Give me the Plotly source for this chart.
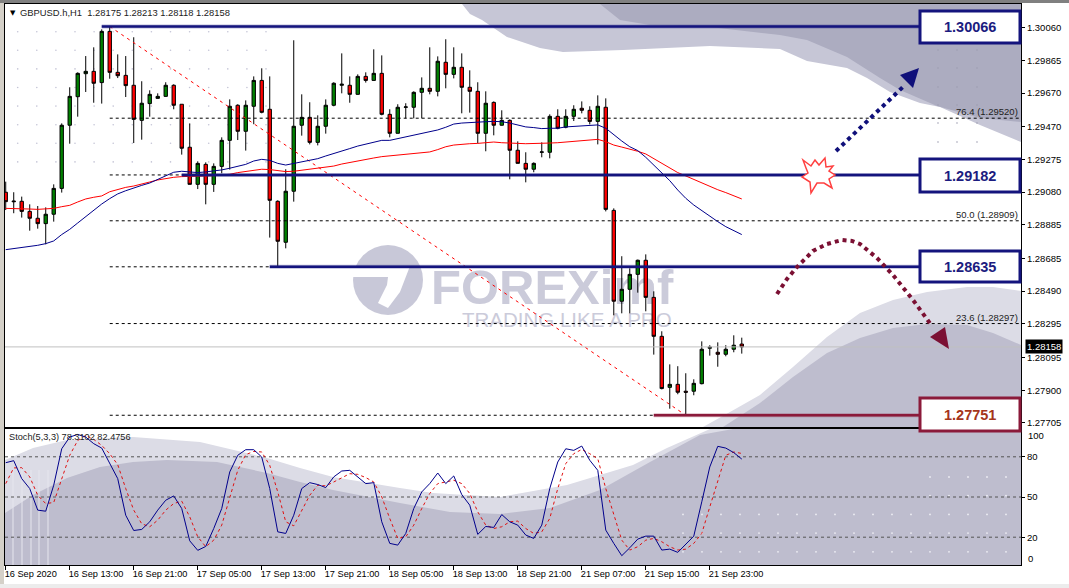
#!/usr/bin/env python3
import plotly.graph_objects as go

W, H = 1069, 588

# hourly bars
opens = [1.29079,1.29027,1.29025,1.28965,1.28924,1.28892,1.28948,1.29102,1.29478,1.29648,1.29785,1.29799,1.29732,1.30037,1.29793,1.29775,1.29716,1.29507,1.29607,1.29638,1.29650,1.29716,1.29603,1.29347,1.29126,1.29245,1.29126,1.29233,1.29388,1.29597,1.29442,1.29591,1.29745,1.29573,1.29025,1.28781,1.29085,1.29478,1.29525,1.29376,1.29472,1.29597,1.29716,1.29716,1.29662,1.29769,1.29745,1.29787,1.29543,1.29430,1.29585,1.29585,1.29674,1.29698,1.29680,1.29853,1.29781,1.29823,1.29704,1.29680,1.29430,1.29614,1.29478,1.29507,1.29329,1.29251,1.29216,1.29317,1.29317,1.29531,1.29466,1.29531,1.29579,1.29567,1.29501,1.29585,1.28971,1.28430,1.28501,1.28590,1.28674,1.28453,1.28221,1.27917,1.27935,1.27894,1.27894,1.27939,1.28150,1.28126,1.28114,1.28144,1.28175]
highs = [1.29142,1.29079,1.29053,1.29007,1.28997,1.28989,1.29126,1.29489,1.29704,1.29793,1.29890,1.29942,1.30049,1.30066,1.29900,1.29890,1.30002,1.29740,1.29686,1.29668,1.29734,1.29722,1.29603,1.29489,1.29263,1.29257,1.29251,1.29406,1.29632,1.29603,1.29626,1.29769,1.29817,1.29769,1.29031,1.29216,1.29984,1.29662,1.29615,1.29537,1.29632,1.29734,1.29906,1.29769,1.29781,1.29793,1.29930,1.29894,1.29573,1.29603,1.29609,1.29680,1.29763,1.29942,1.29888,1.29990,1.29942,1.29906,1.29805,1.29734,1.29680,1.29620,1.29567,1.29513,1.29382,1.29317,1.29257,1.29376,1.29543,1.29573,1.29573,1.29597,1.29620,1.29591,1.29656,1.29638,1.28983,1.28698,1.28626,1.28678,1.28709,1.28489,1.28251,1.28054,1.28043,1.28001,1.27965,1.28191,1.28168,1.28185,1.28168,1.28227,1.28213]
lows = [1.28973,1.28954,1.28928,1.28850,1.28862,1.28769,1.28904,1.29077,1.29368,1.29529,1.29676,1.29612,1.29607,1.29755,1.29759,1.29646,1.29372,1.29392,1.29529,1.29636,1.29648,1.29573,1.29303,1.29126,1.29098,1.29007,1.29081,1.29192,1.29214,1.29390,1.29327,1.29484,1.29549,1.28809,1.28636,1.28745,1.29023,1.29416,1.29364,1.29358,1.29428,1.29591,1.29668,1.29612,1.29660,1.29732,1.29745,1.29537,1.29406,1.29430,1.29519,1.29519,1.29519,1.29662,1.29650,1.29698,1.29757,1.29549,1.29553,1.29370,1.29323,1.29418,1.29476,1.29156,1.29251,1.29138,1.29198,1.29287,1.29281,1.29454,1.29460,1.29503,1.29549,1.29483,1.29364,1.28965,1.28346,1.28358,1.28358,1.28481,1.28370,1.28112,1.27905,1.27790,1.27876,1.27751,1.27870,1.27935,1.28106,1.28040,1.28102,1.28126,1.28118]
closes = [1.29023,1.29023,1.28965,1.28924,1.28892,1.28948,1.29102,1.29478,1.29650,1.29787,1.29799,1.29728,1.30037,1.29793,1.29773,1.29714,1.29513,1.29609,1.29662,1.29650,1.29716,1.29597,1.29341,1.29126,1.29251,1.29126,1.29233,1.29388,1.29591,1.29442,1.29597,1.29745,1.29555,1.29031,1.28787,1.29085,1.29472,1.29525,1.29376,1.29472,1.29597,1.29728,1.29722,1.29662,1.29769,1.29745,1.29787,1.29543,1.29430,1.29585,1.29587,1.29674,1.29698,1.29680,1.29859,1.29781,1.29823,1.29704,1.29680,1.29430,1.29609,1.29478,1.29507,1.29329,1.29251,1.29216,1.29251,1.29319,1.29531,1.29460,1.29531,1.29573,1.29567,1.29501,1.29591,1.28977,1.28430,1.28501,1.28590,1.28674,1.28453,1.28221,1.27910,1.27935,1.27888,1.27888,1.27941,1.28144,1.28156,1.28114,1.28144,1.28168,1.28158]

ma_blue = [1.28737,1.28743,1.28753,1.28759,1.28763,1.28773,1.28789,1.28827,1.28858,1.28896,1.28934,1.28969,1.29009,1.29041,1.29069,1.29088,1.29106,1.29120,1.29134,1.29156,1.29180,1.29198,1.29204,1.29200,1.29196,1.29200,1.29204,1.29212,1.29222,1.29235,1.29245,1.29265,1.29275,1.29269,1.29251,1.29241,1.29251,1.29263,1.29269,1.29279,1.29295,1.29311,1.29327,1.29339,1.29354,1.29366,1.29380,1.29388,1.29388,1.29398,1.29410,1.29418,1.29428,1.29436,1.29450,1.29466,1.29485,1.29491,1.29495,1.29497,1.29499,1.29501,1.29499,1.29491,1.29478,1.29468,1.29464,1.29458,1.29460,1.29460,1.29468,1.29470,1.29476,1.29476,1.29480,1.29460,1.29420,1.29384,1.29350,1.29327,1.29287,1.29241,1.29196,1.29148,1.29092,1.29043,1.29003,1.28969,1.28940,1.28904,1.28874,1.28848,1.28827]
ma_red = [1.28983,1.28983,1.28981,1.28979,1.28977,1.28979,1.28983,1.28993,1.29001,1.29021,1.29039,1.29049,1.29057,1.29082,1.29096,1.29108,1.29116,1.29126,1.29140,1.29152,1.29162,1.29168,1.29172,1.29172,1.29172,1.29176,1.29178,1.29180,1.29186,1.29196,1.29204,1.29212,1.29216,1.29214,1.29210,1.29202,1.29204,1.29210,1.29216,1.29220,1.29225,1.29235,1.29247,1.29257,1.29265,1.29275,1.29283,1.29291,1.29295,1.29299,1.29303,1.29307,1.29313,1.29319,1.29333,1.29350,1.29360,1.29366,1.29368,1.29370,1.29374,1.29378,1.29374,1.29370,1.29370,1.29368,1.29368,1.29368,1.29372,1.29374,1.29378,1.29380,1.29386,1.29390,1.29394,1.29380,1.29360,1.29348,1.29337,1.29323,1.29307,1.29279,1.29251,1.29223,1.29196,1.29176,1.29156,1.29134,1.29112,1.29094,1.29077,1.29059,1.29039]

stoch_k = [75.6,77.1,63.7,56.3,40.2,39.4,58.8,86.0,94.7,96.7,94.7,89.8,86.5,74.9,63.7,36.4,25.0,25.8,31.5,40.2,47.6,50.8,41.4,17.3,10.2,13.1,26.5,41.4,68.7,81.1,85.3,85.3,79.8,56.3,24.0,22.8,36.4,56.3,60.7,59.3,57.0,65.0,69.4,69.9,65.0,60.0,60.7,31.5,15.4,14.1,22.8,41.4,53.8,60.0,67.9,60.0,65.7,51.8,43.9,22.1,28.0,27.3,36.9,31.5,29.0,21.6,19.1,29.0,56.3,76.1,86.0,84.8,88.0,77.4,69.9,25.3,15.4,6.2,12.1,18.6,20.8,20.8,10.4,11.1,8.7,14.6,20.8,46.4,72.4,87.8,86.5,83.1,78.31]
stoch_d = [60.0,71.7,71.9,65.0,51.3,45.1,45.9,63.7,81.1,92.2,96.0,93.0,88.5,82.3,74.1,56.3,40.2,30.0,27.8,32.7,40.2,45.1,46.9,35.2,20.3,12.9,17.8,29.0,50.1,69.9,81.6,84.0,83.6,73.6,53.8,31.5,28.5,40.2,51.3,58.8,58.3,61.2,64.2,67.4,66.9,64.5,61.2,50.1,34.0,19.1,20.3,29.0,41.4,52.6,60.0,61.2,62.5,60.0,52.6,38.9,29.0,26.5,27.8,31.5,32.0,26.5,22.8,24.0,34.0,56.3,74.9,82.3,85.5,82.3,78.6,56.3,37.7,17.8,10.4,12.9,17.8,19.1,16.6,12.9,10.4,11.1,15.4,22.8,42.6,62.5,81.1,83.6,82.48]

price_ticks = [1.30060,1.29865,1.29670,1.29470,1.29275,1.29080,1.28885,1.28685,1.28490,1.28295,1.28095,1.27900,1.27705]
stoch_ticks = [80, 50, 20]
time_ticks = [0, 8, 16, 24, 32, 40, 48, 56, 64, 72, 80, 88]
time_labels = ["16 Sep 2020", "16 Sep 13:00", "16 Sep 21:00", "17 Sep 05:00", "17 Sep 13:00", "17 Sep 21:00",
               "18 Sep 05:00", "18 Sep 13:00", "18 Sep 21:00", "21 Sep 07:00", "21 Sep 15:00", "21 Sep 23:00"]

fib_prices = [1.29520, 1.29182, 1.28909, 1.28635, 1.28297, 1.27751]
fib_names = {1.29520: "76.4", 1.28909: "50.0", 1.28297: "23.6"}
level_prices = [1.30066, 1.29182, 1.28635, 1.27751]
level_starts = [12, 22, 33, 81]
level_colors = ["#14147d", "#14147d", "#14147d", "#8b1a3a"]
level_halos = ["rgba(20,20,125,0.3)", "rgba(20,20,125,0.3)", "rgba(20,20,125,0.3)", "rgba(139,26,58,0.3)"]
level_text_colors = ["#1c1c80", "#1c1c80", "#1c1c80", "#a5341a"]
last_price = 1.28158
high_bar, low_bar = 13, 85

FONT = "Liberation Sans"
MAROON = "#7b1033"
X_RANGE = [-0.09, 126.9]
bars = list(range(len(closes)))


def px(x):
    return x / W


def py(y):
    return 1 - y / H


def poly(points):
    return "M" + " L".join(f"{px(x):.5f},{py(y):.5f}" for x, y in points) + " Z"


def line_path(points):
    return "M" + " L".join(f"{px(x):.5f},{py(y):.5f}" for x, y in points)


def fill_shape(points, color, layer="below"):
    return dict(type="path", path=poly(points), xref="paper", yref="paper",
                fillcolor=color, line=dict(width=0), layer=layer)


def rect(x0, y0, x1, y1, color, line=None, layer="below"):
    return dict(type="rect", xref="paper", yref="paper", x0=px(x0), x1=px(x1), y0=py(y0), y1=py(y1),
                fillcolor=color, line=line or dict(width=0), layer=layer)


fig = go.Figure()

fig.add_trace(go.Candlestick(x=bars, open=opens, high=highs, low=lows, close=closes,
                             increasing=dict(fillcolor="#008000", line=dict(color="black", width=1)),
                             decreasing=dict(fillcolor="#ff0000", line=dict(color="black", width=1)),
                             whiskerwidth=0, xaxis="x", yaxis="y"))

for p in fib_prices:
    fig.add_trace(go.Scatter(x=[13, X_RANGE[1]], y=[p, p], mode="lines",
                             line=dict(color="black", width=1, dash="3px,3px"), xaxis="x", yaxis="y"))
fig.add_trace(go.Scatter(x=[X_RANGE[0], X_RANGE[1]], y=[last_price, last_price], mode="lines",
                         line=dict(color="#c0c0c0", width=1), xaxis="x", yaxis="y"))
fig.add_trace(go.Scatter(x=[high_bar, low_bar], y=[level_prices[0], level_prices[3]], mode="lines",
                         line=dict(color="#ff0000", width=1, dash="3px,4px"), xaxis="x", yaxis="y"))
fig.add_trace(go.Scatter(x=bars, y=ma_red, mode="lines", line=dict(color="#ff0000", width=1), xaxis="x", yaxis="y"))
fig.add_trace(go.Scatter(x=bars, y=ma_blue, mode="lines", line=dict(color="#00008b", width=1), xaxis="x", yaxis="y"))
for p, s, c, h in zip(level_prices, level_starts, level_colors, level_halos):
    fig.add_trace(go.Scatter(x=[s, 114.3], y=[p, p], mode="lines", line=dict(color=h, width=4), xaxis="x", yaxis="y"))
    fig.add_trace(go.Scatter(x=[s, 114.3], y=[p, p], mode="lines", line=dict(color=c, width=2.4), xaxis="x", yaxis="y"))

for lvl in stoch_ticks:
    fig.add_trace(go.Scatter(x=[X_RANGE[0], X_RANGE[1]], y=[lvl, lvl], mode="lines",
                             line=dict(color="#555555", width=1, dash="3px,3px"), xaxis="x2", yaxis="y2"))
fig.add_trace(go.Scatter(x=bars, y=stoch_d, mode="lines", line=dict(color="#e01010", width=1, dash="3px,3px"), xaxis="x2", yaxis="y2"))
fig.add_trace(go.Scatter(x=bars, y=stoch_k, mode="lines", line=dict(color="#00008b", width=1), xaxis="x2", yaxis="y2"))

# background swooshes of the watermark, in pixels of the window
shapes = [
    # main panel, top right
    fill_shape([(462, 4), (470, 14), (482, 20), (507, 37), (540, 48), (563, 52), (623, 50), (710, 46), (780, 49),
                (807, 61), (847, 68), (867, 78), (890, 92), (920, 103), (940, 107), (980, 125), (1021, 142), (1021, 4)], "#c6c6d6"),
    fill_shape([(600, 4), (620, 20), (650, 25), (710, 27), (780, 35), (807, 40), (847, 57), (880, 78), (900, 90),
                (937, 106), (980, 118), (1021, 122), (1021, 4)], "#acacc0"),
    # main panel, bottom right
    fill_shape([(703, 427), (730, 412), (760, 395), (793, 367), (827, 337), (860, 313), (893, 300), (927, 292), (967, 287),
                (993, 287), (1021, 291), (1021, 427)], "#dcdce6"),
    fill_shape([(723, 427), (760, 403), (793, 377), (827, 353), (860, 338), (893, 328), (927, 324), (967, 325),
                (993, 333), (1021, 345), (1021, 427)], "#bebdce"),
    # stochastic panel
    fill_shape([(5, 460), (33, 448), (67, 440), (133, 437), (200, 442), (267, 458), (300, 468), (333, 477), (400, 488),
                (433, 493), (500, 497), (567, 485), (633, 465), (667, 448), (710, 429), (1021, 429), (1021, 565), (5, 565)], "#dcdce6"),
    fill_shape([(5, 513), (33, 495), (67, 478), (100, 467), (133, 462), (167, 460), (217, 462), (267, 473), (300, 482),
                (333, 490), (400, 503), (450, 512), (500, 514), (550, 508), (600, 490), (650, 462), (700, 435), (733, 429),
                (1021, 429), (1021, 565), (5, 565)], "#bebdce"),
    # logo
    dict(type="circle", xref="paper", yref="paper", x0=px(353), x1=px(423), y0=py(315), y1=py(245),
         fillcolor="#c8c8d8", line=dict(width=0), layer="below"),
    fill_shape([(353, 267), (410, 266), (400, 292), (388, 308), (378, 303), (387, 285), (388, 277), (353, 277)], "white"),
    dict(type="rect", xref="paper", yref="paper", x0=px(428), x1=px(700), y0=py(306), y1=py(258),
         fillcolor="rgba(0,0,0,0)", line=dict(width=0), layer="below",
         label=dict(text="<b>FOREXimf</b>", textposition="middle left", padding=0,
                    font=dict(family=FONT, size=49, color="#cbcbda"))),
    dict(type="rect", xref="paper", yref="paper", x0=px(459), x1=px(700), y0=py(328), y1=py(308),
         fillcolor="rgba(0,0,0,0)", line=dict(width=0), layer="below",
         label=dict(text="TRADING LIKE A PRO", textposition="middle left", padding=0,
                    font=dict(family=FONT, size=20.5, color="#cbcbda"))),
]

# watermark dot grids
for col in range(14):
    for row in range(8):
        cx, cy = 17.7 + 19.1 * col, 31.7 + 18.6 * row
        shapes.append(dict(type="circle", xref="paper", yref="paper", x0=px(cx - 0.8), x1=px(cx + 0.8),
                           y0=py(cy + 0.8), y1=py(cy - 0.8), fillcolor="#c4c4d6", line=dict(width=0), layer="below"))
for cx in (938, 957, 977):
    for cy in (50, 68, 87, 105, 123, 142):
        shapes.append(dict(type="circle", xref="paper", yref="paper", x0=px(cx - 0.8), x1=px(cx + 0.8),
                           y0=py(cy + 0.8), y1=py(cy - 0.8), fillcolor="#9c9cb0", line=dict(width=0), layer="below"))
for col in range(18):
    for row in range(5):
        cx, cy = 683 + 19 * col, 477 + 18.7 * row
        if cy < 510 and cx < 925:
            continue
        shapes.append(dict(type="circle", xref="paper", yref="paper", x0=px(cx - 0.9), x1=px(cx + 0.9),
                           y0=py(cy + 0.9), y1=py(cy - 0.9), fillcolor="#eeeef4", line=dict(width=0), layer="below"))
for sx in (13, 22, 31, 39, 48):
    shapes.append(dict(type="line", xref="paper", yref="paper", x0=px(sx), x1=px(sx), y0=py(470), y1=py(565),
                       line=dict(color="#e6e6ee", width=1), layer="below"))

# window frame
shapes += [
    rect(0, 0, 4, H, "#d4d0c8"),
    rect(0, 0, W, 3, "#808080"),
    rect(0, 584, W, H, "#ececec"),
]

# drawn tools on top of the chart
tops = [11, 159, 251, 398]
bottoms = [43, 192, 282, 431]
for top, bottom, c in zip(tops, bottoms, level_colors):
    shapes.append(rect(920, top, 1020, bottom, "white", line=dict(color=c, width=3), layer="above"))
shapes += [
    dict(type="path", xref="paper", yref="paper", layer="above", fillcolor="rgba(0,0,0,0)",
         path=line_path([(836, 151), (905, 85)]), line=dict(color="#10107a", width=4, dash="dot")),
    fill_shape([(919, 68), (900, 75), (913, 88)], "#10107a", layer="above"),
    dict(type="path", xref="paper", yref="paper", layer="above", fillcolor="rgba(0,0,0,0)",
         path=line_path([(777, 294), (787, 279), (797, 267), (813, 251), (827, 244), (842, 240), (852, 241), (860, 244),
                         (877, 258), (893, 275), (913, 300), (932, 326)]),
         line=dict(color=MAROON, width=4, dash="dot")),
    fill_shape([(930, 337), (945, 327), (949, 349)], MAROON, layer="above"),
    dict(type="path", xref="paper", yref="paper", layer="above", fillcolor="white",
         path=poly([(803, 160), (811, 166), (815, 160), (819, 165), (825, 158), (826, 167), (833, 166), (829, 171),
                    (835, 175), (829, 179), (832, 188), (824, 183), (817, 183), (811, 193), (810, 182), (802, 177),
                    (808, 173), (806, 168)]),
         line=dict(color="#ff4040", width=1.5)),
]

annotations = [
    dict(x=px(8), y=py(13), xref="paper", yref="paper", xanchor="left", yanchor="middle", showarrow=False,
         text="\u25bc", font=dict(family="DejaVu Sans", size=7, color="black")),
    dict(x=px(18), y=py(13), xref="paper", yref="paper", xanchor="left", yanchor="middle", showarrow=False,
         text="GBPUSD.h,H1  1.28175 1.28213 1.28118 1.28158", font=dict(family=FONT, size=9.4, color="#222222")),
    dict(x=px(7), y=py(437), xref="paper", yref="paper", xanchor="left", yanchor="middle", showarrow=False,
         text="Stoch(5,3,3) 78.3102 82.4756", font=dict(family=FONT, size=9.2, color="#222222")),
    dict(x=px(1026), y=py(435), xref="paper", yref="paper", xanchor="left", yanchor="middle", showarrow=False,
         text="100", font=dict(family=FONT, size=9.5, color="black")),
    dict(x=px(1026), y=py(558), xref="paper", yref="paper", xanchor="left", yanchor="middle", showarrow=False,
         text="0", font=dict(family=FONT, size=9.5, color="black")),
    dict(x=px(1044), y=last_price, xref="paper", yref="y", xanchor="center", yanchor="middle", showarrow=False,
         text=f"{last_price:.5f}", bgcolor="black", borderpad=1, font=dict(family=FONT, size=9.5, color="white")),
]
for p, name in fib_names.items():
    annotations.append(dict(x=px(1020), y=p, xref="paper", yref="y", xanchor="right", yanchor="bottom", showarrow=False,
                            yshift=-1, text=f"{name} ({p:.5f})", font=dict(family=FONT, size=9.5, color="#222222")))
for p, c, top, bottom in zip(level_prices, level_text_colors, tops, bottoms):
    annotations.append(dict(x=px(970), y=py((top + bottom) / 2), xref="paper", yref="paper", xanchor="center", yanchor="middle",
                            showarrow=False, text=f"<b>{p:.5f}</b>", font=dict(family=FONT, size=14.5, color=c)))

axis_common = dict(showgrid=False, zeroline=False, showline=True, linecolor="black", linewidth=1, mirror=True, automargin=False)
fig.update_layout(
    width=W, height=H, margin=dict(l=0, r=0, t=0, b=0), showlegend=False, hovermode=False,
    paper_bgcolor="white", plot_bgcolor="white", boxgap=0.4,
    font=dict(family=FONT, size=9.5, color="black"),
    xaxis=dict(domain=[px(5), px(1021)], range=X_RANGE, anchor="y", rangeslider=dict(visible=False),
               showticklabels=False, ticks="", **axis_common),
    yaxis=dict(domain=[py(427), py(4)], range=[1.27681, 1.30200], anchor="x", side="right",
               tickvals=price_ticks, ticktext=[f"{t:.5f}" for t in price_ticks], ticks="outside", ticklen=3,
               tickcolor="black", **axis_common),
    xaxis2=dict(domain=[px(5), px(1021)], range=X_RANGE, anchor="y2", tickvals=time_ticks, ticktext=time_labels,
                ticks="outside", ticklen=4, tickcolor="black", ticklabelposition="outside right", tickangle=0,
                ticklabelshift=-2, tickfont=dict(family=FONT, size=9.2), **axis_common),
    yaxis2=dict(domain=[py(565), py(429)], range=[-0.74, 100.74], anchor="x2", side="right",
                tickvals=stoch_ticks, ticktext=[str(t) for t in stoch_ticks], ticks="outside", ticklen=3,
                tickcolor="black", **axis_common),
    shapes=shapes, annotations=annotations,
)

fig.write_html("out.html", config={"displayModeBar": False},
               post_script="document.body.style.margin='0';document.documentElement.style.overflow='hidden';")
